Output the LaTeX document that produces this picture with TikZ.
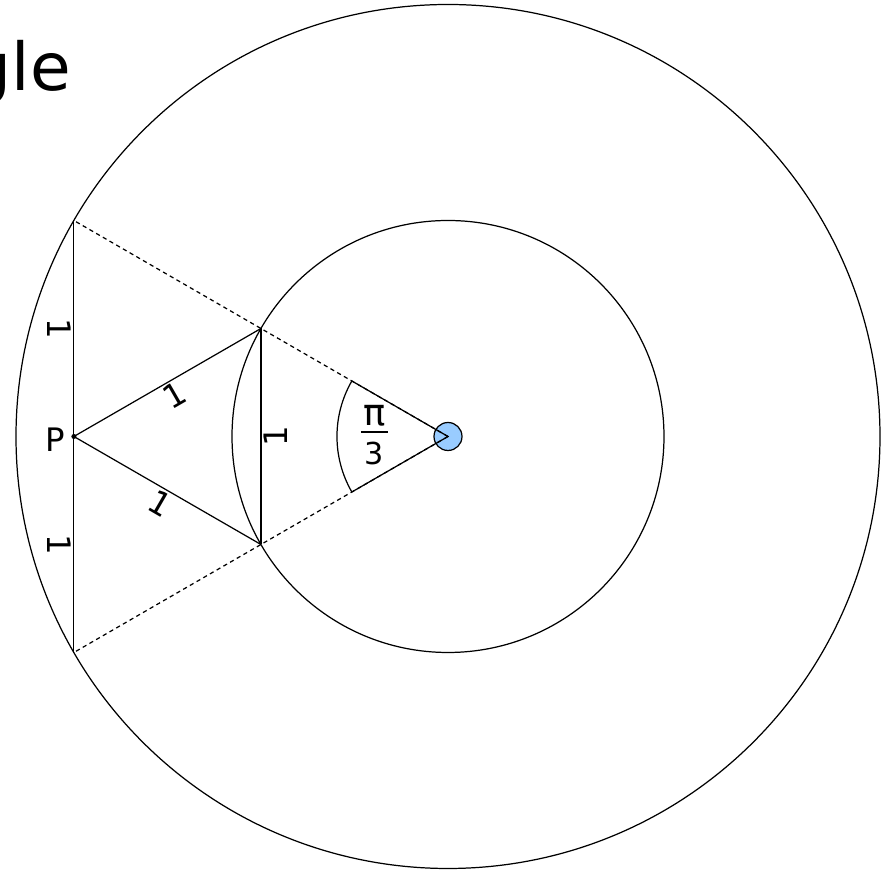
\documentclass[tikz,border=0pt]{standalone}
\usepackage{fontspec}
\setmainfont{DejaVu Sans}
\usetikzlibrary{calc}
\definecolor{dotblue}{RGB}{153,204,255}
\tikzset{
  geo/.style={line width=0.35pt, draw=black},
  guide/.style={line width=0.35pt, draw=black, dash pattern=on 1.2pt off 1pt},
  lbl/.style={font=\fontsize{9.2}{11}\selectfont, inner sep=0.6pt, anchor=north},
  fraclbl/.style={font=\fontsize{8.6}{10}\selectfont, inner sep=0pt},
}
\begin{document}
\begin{tikzpicture}[x=2.16cm,y=2.16cm]
\useasboundingbox (-2.0741,-2.0069) rectangle (2.0370,2.0208);
\coordinate (O) at (0,0);
\coordinate (A) at (150:1);
\coordinate (B) at (210:1);
\coordinate (C) at (150:2);
\coordinate (D) at (210:2);
\coordinate (P) at (-1.7320508,0);
\coordinate (E1) at (150:0.514);
\coordinate (E2) at (210:0.514);
\coordinate (F1) at (-0.4028,0.0208);
\coordinate (F2) at (-0.2778,0.0208);

\node[font=\fontsize{18.8}{22}\selectfont, anchor=base west, inner sep=0pt] (title) at (-2.2176,1.601) {gle};

\draw[geo] (O) circle[radius=2];
\draw[geo] (O) circle[radius=1];
\draw[geo, fill=dotblue] (O) circle[radius=0.0648];

\draw[guide] (O) -- (C);
\draw[guide] (O) -- (D);
\draw[geo] (C) -- (D);
\draw[geo] (P) -- (A);
\draw[geo] (P) -- (B);
\draw[geo] (A) -- (B);
\draw[geo] (E1) -- (O) -- (E2);
\draw[geo] (E1) arc[start angle=150, end angle=210, radius=0.514];
\fill (P) circle[radius=0.0116];

\node[lbl, rotate=-90] (l1) at ($(C)!0.5!(P)$) {1};
\node[lbl, rotate=-90] (l2) at ($(D)!0.5!(P)$) {1};
\node[lbl, rotate=90] (l3) at ($(A)!0.5!(B)$) {1};
\node[lbl, rotate=30] (l4) at ($(P)!0.5!(A)$) {1};
\node[lbl, rotate=-30] (l5) at ($(P)!0.5!(B)$) {1};
\node[font=\fontsize{9.2}{11}\selectfont, inner sep=0pt] (lP) at (-1.817,-0.016) {P};

\node[font=\fontsize{10.5}{12}\selectfont, inner sep=0pt] (num) at (-0.3403,0.0960) {π};
\node[fraclbl] (den) at (-0.3403,-0.0790) {3};
\draw[line width=0.4pt] (F1) -- (F2);
\end{tikzpicture}
\end{document}
